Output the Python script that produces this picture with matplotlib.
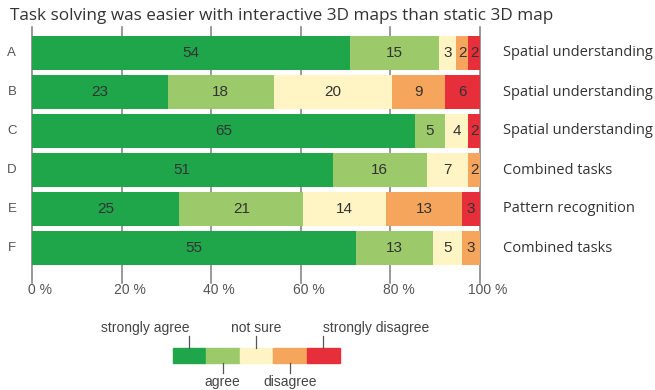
import matplotlib.pyplot as plt
import matplotlib.transforms as mtransforms
from matplotlib.patches import Rectangle
import numpy as np

rows = ['A', 'B', 'C', 'D', 'E', 'F']
tasks = ['Spatial understanding', 'Spatial understanding', 'Spatial understanding',
         'Combined tasks', 'Pattern recognition', 'Combined tasks']
levels = ['strongly agree', 'agree', 'not sure', 'disagree', 'strongly disagree']
colors = ['#1fa64a', '#9cca6a', '#fff4c4', '#f5a55c', '#e62f3a']

# answer counts per row (76 respondents each)
strongly_agree = [54, 23, 65, 51, 25, 55]
agree = [15, 18, 5, 16, 21, 13]
not_sure = [3, 20, 4, 7, 14, 5]
disagree = [2, 9, 0, 2, 13, 3]
strongly_disagree = [2, 6, 2, 0, 3, 0]

counts = np.array([strongly_agree, agree, not_sure, disagree, strongly_disagree], dtype=float)
pct = counts / counts.sum(axis=0) * 100

W, H = 655, 390
fig = plt.figure(figsize=(W / 100, H / 100), dpi=100)
ax = fig.add_axes([32 / W, 1 - 267.5 / H, 448 / W, 234 / H])

txt_font = ['Open Sans', 'DejaVu Sans']
num_font = ['Liberation Sans', 'DejaVu Sans']

y = np.arange(len(rows))
left = np.zeros(len(rows))
for k in range(len(levels)):
    ax.barh(y, pct[k], left=left, height=0.87, color=colors[k], zorder=2)
    for i in range(len(rows)):
        if counts[k, i] > 0:
            ax.text(left[i] + pct[k, i] / 2, y[i], '%d' % counts[k, i],
                    ha='center', va='center', fontsize=11, color='#333333',
                    family=num_font, zorder=3)
    left += pct[k]

ax.set_xlim(0, 100)
ax.set_ylim(5.5, -0.5)
ax.axis('off')

# gridlines running past the bars, with percentage labels below
# (the number sits centred on its line, the % sign trails after it)
trans = mtransforms.blended_transform_factory(ax.transData, ax.transAxes)
tick_fs = 10
for xv in range(0, 101, 20):
    ax.plot([xv, xv], [1.028, -0.067], transform=trans, color='#888888',
            lw=1.2, zorder=1, clip_on=False)
    shift = -len(str(xv)) * 0.556 * tick_fs / 2
    lab_trans = mtransforms.offset_copy(trans, fig=fig, x=shift, y=0, units='points')
    ax.text(xv, -0.096, '%d %%' % xv, transform=lab_trans, ha='left', va='center',
            fontsize=tick_fs, color='#555555', family=num_font)

for i in range(len(rows)):
    ax.text(-4.5, y[i], rows[i], ha='center', va='center', fontsize=9.5,
            color='#555555', family=num_font)
    ax.text(105.1, y[i], tasks[i], ha='left', va='center', fontsize=10.5,
            color='#333333', family=txt_font)

fig.text(10 / W, 1 - 16 / H, 'Task solving was easier with interactive 3D maps than static 3D map',
         ha='left', va='center', fontsize=12.3, color='#333333', family=txt_font)

# legend strip
bx0, bw, by0, bh = 172.5, 33.5, 348, 15
label_ha = ['right', 'center', 'center', 'center', 'left']
for k in range(len(levels)):
    fig.patches.append(Rectangle(((bx0 + k * bw) / W, 1 - (by0 + bh) / H), bw / W, bh / H,
                                 transform=fig.transFigure, color=colors[k]))
    cx = (bx0 + (k + 0.5) * bw) / W
    if k % 2 == 0:
        fig.add_artist(plt.Line2D([cx, cx], [1 - 336 / H, 1 - by0 / H], color='#555555', lw=0.9))
        fig.text(cx, 1 - 328 / H, levels[k], ha=label_ha[k], va='center', fontsize=10,
                 color='#444444', family=num_font)
    else:
        fig.add_artist(plt.Line2D([cx, cx], [1 - (by0 + bh) / H, 1 - 373 / H], color='#555555', lw=0.9))
        fig.text(cx, 1 - 382 / H, levels[k], ha='center', va='center', fontsize=10,
                 color='#444444', family=num_font)

fig.savefig('out.png', dpi=100)
